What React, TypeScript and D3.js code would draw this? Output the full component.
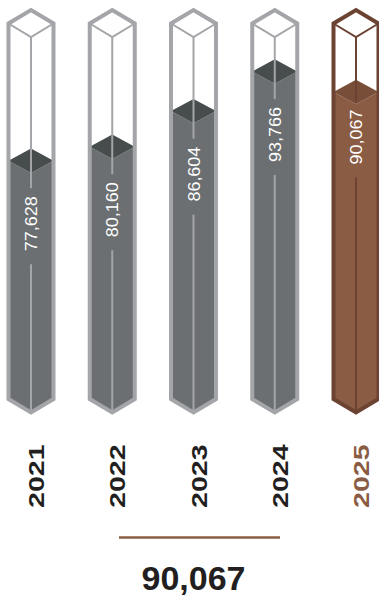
import React from "react";
import * as d3 from "d3";

const years = ["2021", "2022", "2023", "2024", "2025"];
const values = [77628, 80160, 86604, 93766, 90067];
const highlightYear = "2025";
const totalLabel = "90,067";

const W = 379;
const H = 596;

const grayPal = { outline: "#a4a5a8", fill: "#6b6f71", top: "#474c4c", line: "#a4a5a8" };
const brownPal = { outline: "#6c4333", fill: "#8a5c43", top: "#794e39", line: "#6c4333" };

export default function App() {
  const x = d3.scalePoint<string>().domain(years).range([31, 356]).padding(0);
  const y = d3.scaleLinear().domain([70000, 100000]).range([203, 37]);
  const fmt = d3.format(",");

  const hw = 22.5;
  const dy = 13.5;
  const topY = 23.5;
  const botY = 399;
  const fd = 12.2;
  const labelLen = 55;

  return (
    <div style={{ position: "absolute", left: 0, top: 0 }}>
      <svg width={W} height={H} style={{ display: "block" }} fontFamily="'Liberation Sans', Arial, Helvetica, sans-serif">
        {years.map((yr, i) => {
          const cx = x(yr) as number;
          const hl = yr === highlightYear;
          const pal = hl ? brownPal : grayPal;
          const ym = y(values[i]);
          const body = `M${cx - hw},${ym} L${cx},${ym + fd} L${cx + hw},${ym} L${cx + hw},${botY} L${cx},${botY + dy} L${cx - hw},${botY} Z`;
          const diamond = `M${cx - hw},${ym} L${cx},${ym - fd} L${cx + hw},${ym} L${cx},${ym + fd} Z`;
          const outline = `M${cx - hw},${botY} L${cx - hw},${topY} L${cx},${topY - dy} L${cx + hw},${topY} L${cx + hw},${botY} L${cx},${botY + dy} Z`;
          const inner = `M${cx - hw},${topY} L${cx},${topY + dy} L${cx + hw},${topY}`;
          const lc = ym + (hl ? 45 : 63);
          const lTop = lc - labelLen / 2;
          const lBot = lc + labelLen / 2;
          return (
            <g key={yr}>
              <path d={body} fill={pal.fill} />
              <path d={diamond} fill={pal.top} />
              <line x1={cx} x2={cx} y1={topY + dy} y2={lTop - 8} stroke={pal.line} strokeWidth={2} />
              <line x1={cx} x2={cx} y1={lBot + 13} y2={botY + dy} stroke={pal.line} strokeWidth={2} />
              <path d={inner} fill="none" stroke={pal.outline} strokeWidth={2} />
              <path d={outline} fill="none" stroke={pal.outline} strokeWidth={4} strokeLinejoin="miter" />
              <text
                transform={`translate(${cx + 6},${lBot}) rotate(-90)`}
                fill="#ffffff"
                fontSize={16.5}
                textLength={labelLen}
                lengthAdjust="spacingAndGlyphs"
              >
                {fmt(values[i])}
              </text>
              <text
                transform={`translate(${cx + 13},508) rotate(-90) scale(1.3,1)`}
                fill={hl ? "#8a5c43" : "#231f20"}
                fontSize={22}
                fontWeight="bold"
              >
                {yr}
              </text>
            </g>
          );
        })}
        <line x1={119} x2={280} y1={537.5} y2={537.5} stroke="#8a5c43" strokeWidth={2.5} />
        <text x={193.5} y={590} textAnchor="middle" fontSize={34} fontWeight="bold" fill="#231f20">
          {totalLabel}
        </text>
      </svg>
    </div>
  );
}
